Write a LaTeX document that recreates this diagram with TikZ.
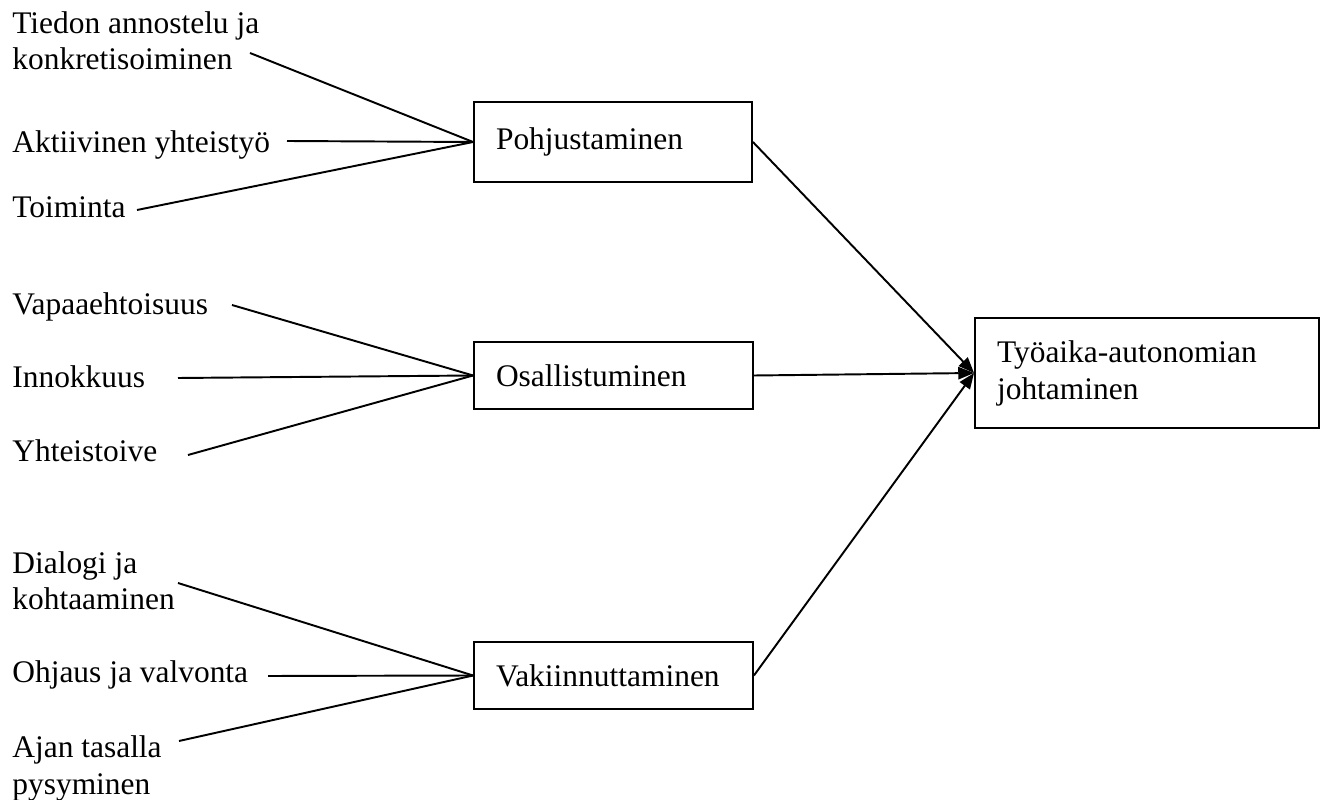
\documentclass[tikz,border=0pt]{standalone}
\usepackage{fontspec}
\setmainfont{Liberation Serif}
\usetikzlibrary{arrows.meta}

\begin{document}
\begin{tikzpicture}[x=0.02cm, y=-0.02cm,
    every node/.style={font=\fontsize{17.9}{21}\selectfont},
    item/.style={anchor=base west, inner sep=0pt, align=left},
    box/.style={draw, line width=1.1pt, inner xsep=0.44cm, inner ysep=0pt, align=left},
    link/.style={line width=1.1pt},
    arrow/.style={line width=1.1pt, -{Triangle[length=9pt, width=7pt]}}]

    \useasboundingbox (0,0) rectangle (1323,800);

%Boxes

    \node[box, text width=4.68cm, minimum height=1.6cm] (pohj) at (613,142) {Pohjustaminen};
    \node[box, text width=4.7cm, minimum height=1.34cm] (osal) at (613.5,375.5) {Osallistuminen};
    \node[box, text width=4.7cm, minimum height=1.34cm] (vaki) at (613.5,675.5) {Vakiinnuttaminen};
    \node[box, text width=6cm, minimum height=2.2cm] (goal) at (1147,373) {Työaika-autonomian\\johtaminen};

%Labels of the first group (base = last line)

    \node[item] (tiedon) at (12,70) {Tiedon annostelu ja\\konkretisoiminen};
    \node[item] (aktiiv) at (12,153) {Aktiivinen yhteistyö};
    \node[item] (toimin) at (12,218) {Toiminta};

%Labels of the second group

    \node[item] (vapaa) at (12,315) {Vapaaehtoisuus};
    \node[item] (innok) at (12,388) {Innokkuus};
    \node[item] (yhteis) at (12,462) {Yhteistoive};

%Labels of the third group

    \node[item] (dialog) at (12,610) {Dialogi ja\\kohtaaminen};
    \node[item] (ohjaus) at (12,683) {Ohjaus ja valvonta};
    \node[item] (ajan) at (12,794) {Ajan tasalla\\pysyminen};

%Line ends next to the labels

    \coordinate (tiedonE) at (250,53);
    \coordinate (aktiivE) at (287,141);
    \coordinate (toiminE) at (137,210);
    \coordinate (vapaaE) at (232,305);
    \coordinate (innokE) at (178,378);
    \coordinate (yhteisE) at (188,455);
    \coordinate (dialogE) at (178,583);
    \coordinate (ohjausE) at (268,676);
    \coordinate (ajanE) at (179,741);

%Lines into the boxes

    \draw[link] (tiedonE) -- (pohj.west);
    \draw[link] (aktiivE) -- (pohj.west);
    \draw[link] (toiminE) -- (pohj.west);

    \draw[link] (vapaaE) -- (osal.west);
    \draw[link] (innokE) -- (osal.west);
    \draw[link] (yhteisE) -- (osal.west);

    \draw[link] (dialogE) -- (vaki.west);
    \draw[link] (ohjausE) -- (vaki.west);
    \draw[link] (ajanE) -- (vaki.west);

%Arrows to the goal

    \draw[arrow] (pohj.east) -- (goal.west);
    \draw[arrow] (osal.east) -- (goal.west);
    \draw[arrow] (vaki.east) -- (goal.west);

\end{tikzpicture}
\end{document}
